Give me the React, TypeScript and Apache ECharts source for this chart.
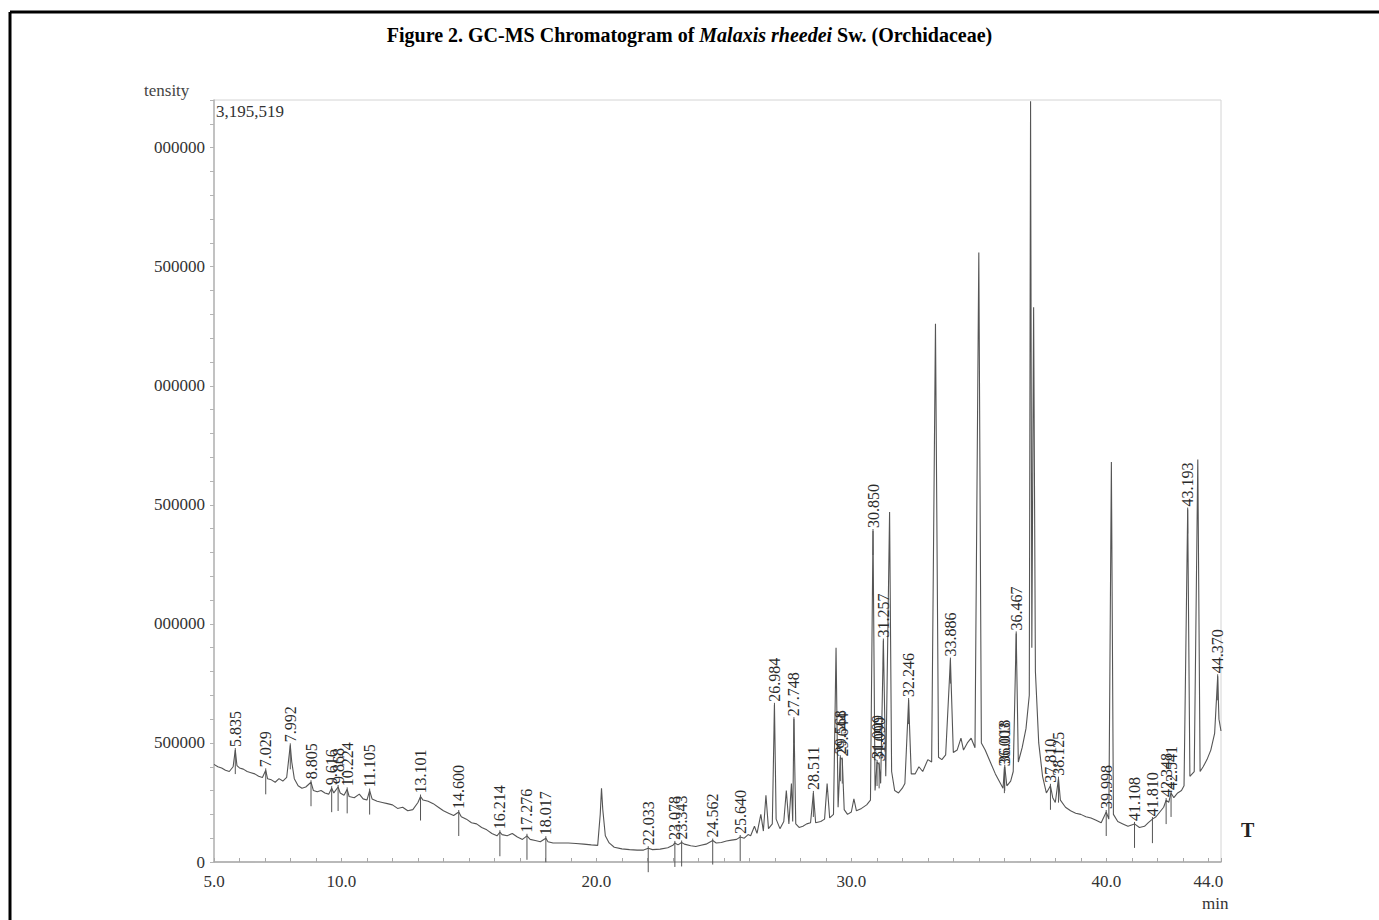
import { useEffect, useRef } from "react";
import * as echarts from "echarts";

// Retention time (min) of each trace point
const retentionTimes = [
  5.0, 5.15, 5.3, 5.45, 5.6, 5.75, 5.835, 5.9, 6.0, 6.15, 6.3, 6.45, 6.6, 6.75, 6.9, 7.029, 7.1, 7.25, 7.4, 7.55,
  7.7, 7.85, 7.992, 8.05, 8.15, 8.3, 8.45, 8.6, 8.805, 8.9, 9.05, 9.2, 9.35, 9.5, 9.616, 9.7, 9.868, 9.95, 10.1, 10.224,
  10.3, 10.5, 10.7, 10.85, 11.0, 11.105, 11.2, 11.4, 11.6, 11.8, 12.0, 12.2, 12.4, 12.6, 12.8, 13.0, 13.101, 13.2, 13.4, 13.6,
  13.8, 14.0, 14.2, 14.4, 14.6, 14.7, 14.9, 15.1, 15.3, 15.5, 15.7, 15.9, 16.1, 16.214, 16.3, 16.5, 16.7, 16.9, 17.1, 17.276,
  17.4, 17.6, 17.8, 18.017, 18.1, 18.3, 18.6, 18.9, 19.2, 19.5, 19.8, 20.05, 20.15, 20.2, 20.25, 20.35, 20.5, 20.7, 21.0, 21.3,
  21.6, 21.85, 22.033, 22.2, 22.5, 22.8, 23.0, 23.078, 23.2, 23.343, 23.45, 23.7, 23.9, 24.1, 24.3, 24.562, 24.7, 24.9, 25.1, 25.3,
  25.5, 25.64, 25.8, 25.95, 26.05, 26.2, 26.3, 26.45, 26.55, 26.65, 26.75, 26.9, 26.984, 27.05, 27.2, 27.35, 27.45, 27.55, 27.65, 27.7,
  27.748, 27.82, 27.95, 28.1, 28.25, 28.4, 28.511, 28.6, 28.8, 28.95, 29.05, 29.15, 29.3, 29.4, 29.48, 29.568, 29.644, 29.72, 29.85, 30.0,
  30.1, 30.2, 30.4, 30.6, 30.75, 30.85, 30.93, 31.009, 31.09, 31.15, 31.257, 31.35, 31.5, 31.58, 31.7, 31.85, 32.0, 32.1, 32.246, 32.35,
  32.5, 32.65, 32.8, 33.0, 33.15, 33.3, 33.42, 33.55, 33.7, 33.886, 34.0, 34.15, 34.3, 34.4, 34.55, 34.7, 34.85, 35.0, 35.1, 35.25,
  35.45, 35.65, 35.85, 35.95, 36.003, 36.018, 36.1, 36.25, 36.35, 36.467, 36.55, 36.7, 36.85, 36.98, 37.03, 37.08, 37.15, 37.22, 37.35, 37.5,
  37.65, 37.81, 37.9, 38.0, 38.125, 38.2, 38.4, 38.6, 38.8, 39.0, 39.2, 39.4, 39.6, 39.8, 39.998, 40.1, 40.2, 40.28, 40.45, 40.65,
  40.85, 41.108, 41.3, 41.5, 41.65, 41.81, 41.95, 42.1, 42.25, 42.348, 42.45, 42.541, 42.65, 42.8, 42.95, 43.05, 43.193, 43.28, 43.45, 43.59,
  43.68, 43.8, 43.95, 44.1, 44.25, 44.37, 44.42, 44.5,
];

// Intensity (thousands of counts) at each retention time
const intensitiesK = [
  410, 400, 395, 385, 380, 400, 470, 405, 395, 390, 380, 375, 370, 360, 355, 385, 350, 345, 335, 350,
  340, 355, 490, 420, 350, 320, 310, 315, 335, 300, 295, 300, 290, 285, 310, 290, 315, 290, 280, 305,
  275, 270, 285, 265, 260, 300, 265, 255, 250, 245, 240, 225, 230, 215, 220, 250, 275, 260, 255, 245,
  230, 215, 205, 195, 210, 190, 180, 165, 160, 145, 135, 120, 110, 125, 115, 110, 120, 105, 95, 110,
  95, 90, 85, 100, 85, 80, 80, 80, 78, 75, 72, 70, 200, 310, 220, 110, 80, 62, 55, 52,
  50, 50, 58, 52, 54, 60, 70, 80, 72, 82, 75, 68, 65, 70, 75, 90, 80, 82, 88, 92,
  95, 105, 100, 115, 110, 150, 120, 200, 130, 280, 140, 160, 660, 180, 140, 170, 300, 160, 330, 170,
  600, 160, 145, 150, 160, 165, 290, 165, 170, 180, 330, 185, 200, 900, 230, 440, 430, 220, 200, 210,
  265, 215, 225, 240, 260, 1390, 300, 420, 410, 330, 930, 360, 1470, 380, 300, 290, 310, 330, 680, 370,
  370, 400, 380, 430, 420, 2260, 440, 430, 450, 850, 460, 470, 520, 470, 500, 520, 480, 2560, 500, 470,
  420, 370, 330, 310, 390, 400, 320, 340, 380, 960, 420, 480, 560, 700, 3195, 900, 2330, 800, 500, 360,
  290, 320, 270, 250, 350, 260, 230, 215, 205, 200, 190, 185, 175, 165, 210, 180, 1680, 200, 170, 160,
  150, 160, 145, 150, 165, 180, 190, 210, 230, 260, 250, 290, 270, 290, 300, 320, 1480, 360, 380, 1690,
  380, 400, 430, 470, 540, 780, 600, 550,
];

// Retention times printed above the integrated peaks
const peakLabels = [
  "5.835", "7.029", "7.992", "8.805", "9.616", "9.868", "10.224", "11.105", "13.101", "14.600",
  "16.214", "17.276", "18.017", "22.033", "23.078", "23.343", "24.562", "25.640", "26.984", "27.748",
  "28.511", "29.568", "29.644", "30.850", "31.009", "31.090", "31.257", "32.246", "33.886", "36.003",
  "36.018", "36.467", "37.810", "38.125", "39.998", "41.108", "41.810", "42.348", "42.541", "43.193", "44.370",
];

const xTickLabels = [5, 10, 20, 30, 40, 44];
const yLabelStep = 500000;
const maxIntensityText = "3,195,519";

export default function App() {
  const ref = useRef<HTMLDivElement>(null);

  useEffect(() => {
    if (!ref.current) return;
    const chart = echarts.init(ref.current, undefined, { renderer: "svg" });

    const trace = retentionTimes.map((t, i) => [t, intensitiesK[i] * 1000]);
    const peaks = peakLabels.map((lab) => {
      const t = parseFloat(lab);
      let best = 0;
      for (let i = 0; i < retentionTimes.length; i++) {
        if (Math.abs(retentionTimes[i] - t) < Math.abs(retentionTimes[best] - t)) best = i;
      }
      return [t, intensitiesK[best] * 1000, lab];
    });

    const serif = '"Liberation Serif", "Times New Roman", serif';

    chart.setOption({
      animation: false,
      backgroundColor: "#ffffff",
      title: {
        text: "{b|Figure 2. GC-MS Chromatogram of }{bi|Malaxis rheedei}{b| Sw. (Orchidaceae)}",
        left: "center",
        top: 20,
        textStyle: {
          rich: {
            b: { fontFamily: serif, fontWeight: "bold", fontSize: 20, color: "#000" },
            bi: { fontFamily: serif, fontWeight: "bold", fontStyle: "italic", fontSize: 20, color: "#000" },
          },
        },
      },
      grid: {
        left: 214,
        right: 158,
        top: 100,
        bottom: 58,
        show: true,
        borderColor: "#d4d4d4",
        borderWidth: 1,
      },
      xAxis: {
        type: "value",
        min: 5,
        max: 44.5,
        interval: 1,
        axisLine: { show: true, onZero: false, lineStyle: { color: "#a8a8a8", width: 1.5 } },
        axisTick: { show: true, inside: true, length: 4, lineStyle: { color: "#a8a8a8" } },
        splitLine: { show: false },
        axisLabel: {
          margin: 11,
          fontFamily: serif,
          fontSize: 17,
          color: "#333",
          formatter: (v: number) => (xTickLabels.some((x) => Math.abs(x - v) < 1e-6) ? v.toFixed(1) : ""),
        },
      },
      yAxis: {
        type: "value",
        min: 0,
        max: 3200000,
        interval: 100000,
        axisLine: { show: true, lineStyle: { color: "#b4b4b4", width: 1.5 } },
        axisTick: { show: true, length: 4, lineStyle: { color: "#b4b4b4" } },
        splitLine: { show: false },
        axisLabel: {
          margin: 9,
          fontFamily: serif,
          fontSize: 17,
          color: "#333",
          formatter: (v: number) => {
            if (v % yLabelStep !== 0) return "";
            return v === 0 ? "0" : String(v).slice(-6);
          },
        },
      },
      series: [
        {
          type: "line",
          data: trace,
          showSymbol: false,
          symbol: "none",
          lineStyle: { color: "#555", width: 1.1 },
          z: 2,
        },
        {
          type: "custom",
          data: peaks,
          clip: false,
          z: 3,
          renderItem: (params: any, api: any) => {
            const p = api.coord([api.value(0), api.value(1)]);
            const lab = peaks[params.dataIndex][2] as string;
            return {
              type: "group",
              children: [
                {
                  type: "line",
                  shape: { x1: p[0], y1: p[1] - 2, x2: p[0], y2: p[1] + 24 },
                  style: { stroke: "#555", lineWidth: 1 },
                },
                {
                  type: "text",
                  x: p[0],
                  y: p[1] - 3,
                  rotation: Math.PI / 2,
                  style: {
                    text: lab,
                    textAlign: "left",
                    textVerticalAlign: "middle",
                    align: "left",
                    verticalAlign: "middle",
                    font: '16px "Liberation Serif", serif',
                    fill: "#2a2a2a",
                  },
                },
              ],
            };
          },
        },
      ],
      graphic: [
        { type: "line", shape: { x1: 10, y1: 12, x2: 1379, y2: 12 }, style: { stroke: "#000", lineWidth: 3 } },
        { type: "line", shape: { x1: 10, y1: 12, x2: 10, y2: 920 }, style: { stroke: "#000", lineWidth: 3 } },
        { type: "text", left: 144, top: 82, style: { text: "tensity", font: '17px "Liberation Serif", serif', fill: "#444" } },
        { type: "text", left: 216, top: 103, style: { text: maxIntensityText, font: '17px "Liberation Serif", serif', fill: "#333" } },
        { type: "text", left: 1202, top: 895, style: { text: "min", font: '17px "Liberation Serif", serif', fill: "#333" } },
        { type: "text", left: 1241, top: 820, style: { text: "T", font: 'bold 20px "Liberation Serif", serif', fill: "#222" } },
      ],
    });

    return () => chart.dispose();
  }, []);

  return <div ref={ref} style={{ position: "fixed", left: 0, top: 0, width: 1379, height: 920 }} />;
}
